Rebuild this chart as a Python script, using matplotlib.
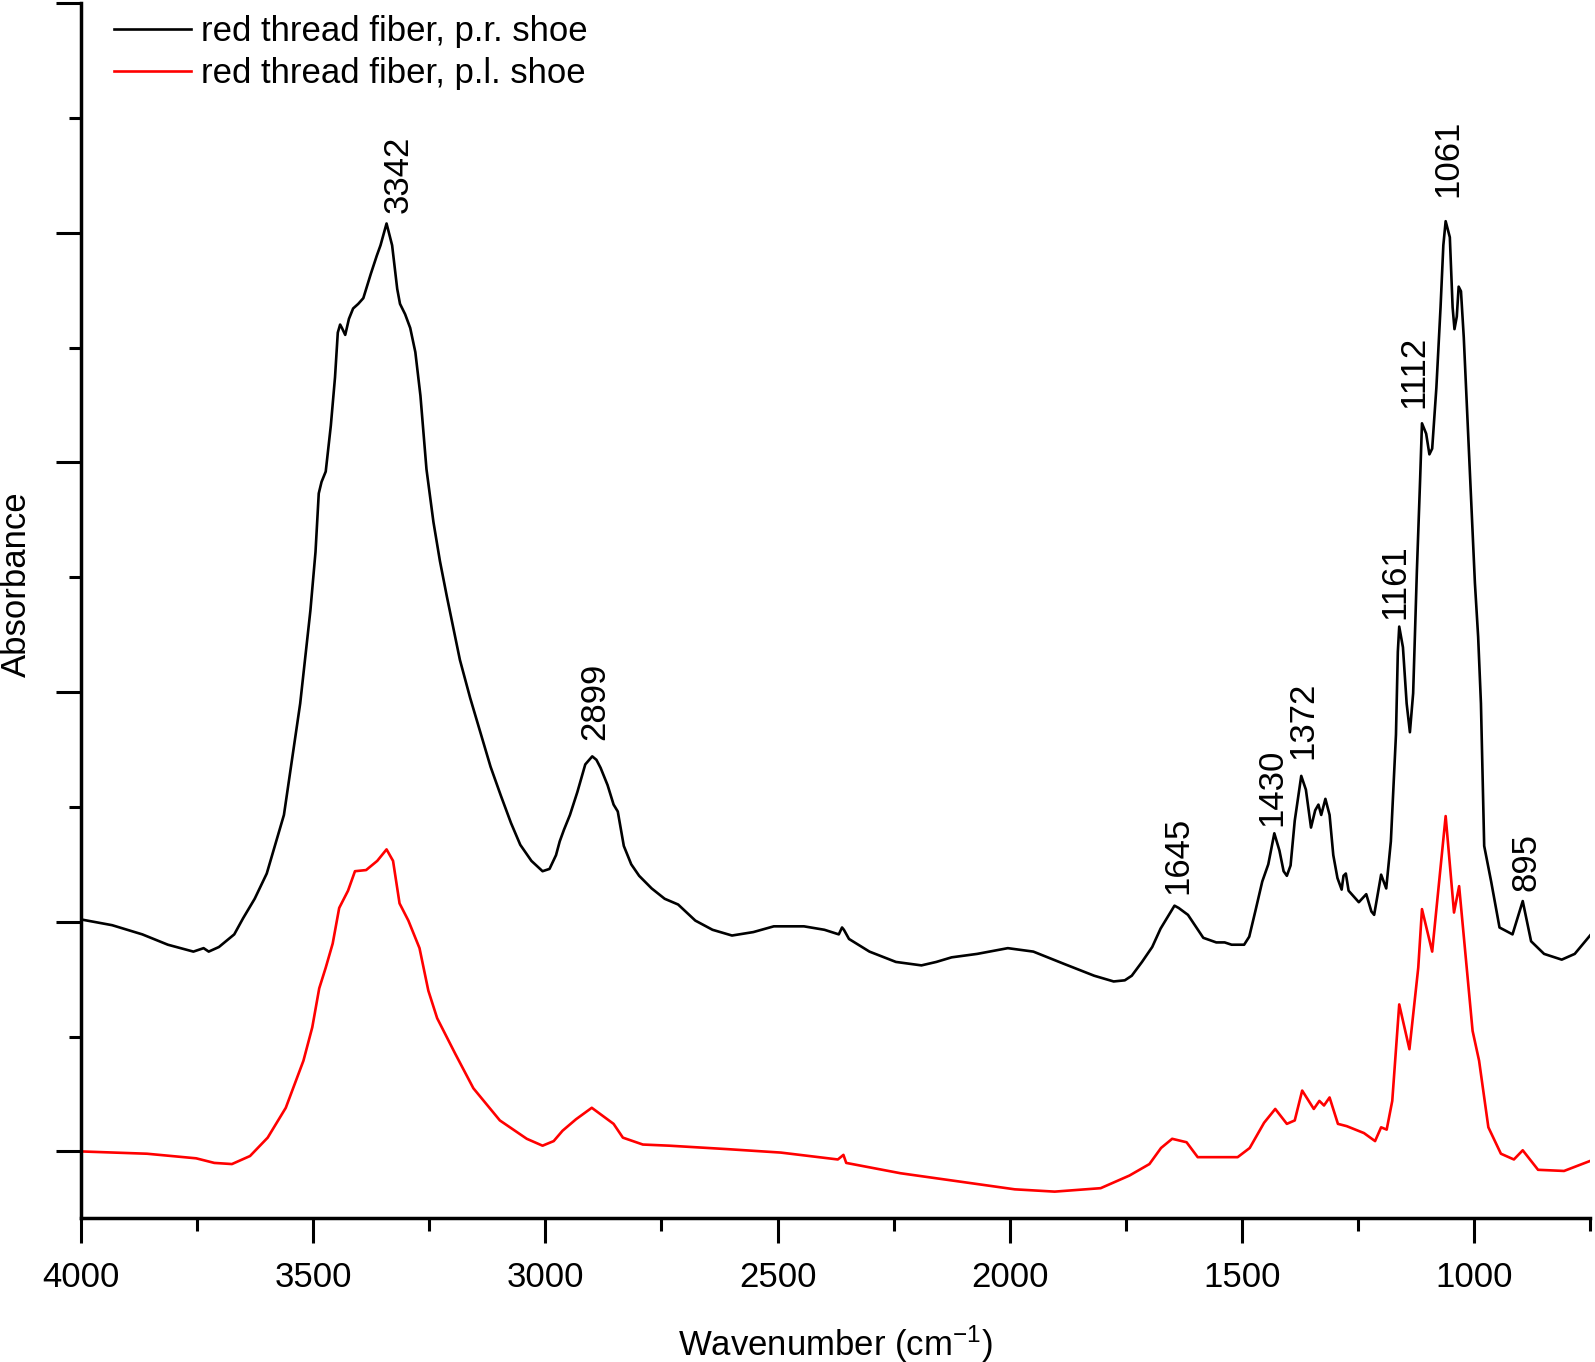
import matplotlib
matplotlib.use("Agg")
import matplotlib.pyplot as plt
from matplotlib.ticker import MultipleLocator

plt.rcParams["font.family"] = ["Liberation Sans", "DejaVu Sans"]
plt.rcParams["mathtext.default"] = "regular"

# espectro superior (negro), zapato derecho
wn_pr = [4000, 3933, 3868, 3813, 3758, 3736, 3725, 3703, 3670, 3651, 3626, 3600, 3563, 3528,
         3506, 3495, 3488, 3482, 3473, 3462, 3453, 3447, 3442, 3438, 3431, 3423, 3414, 3403,
         3392, 3376, 3363, 3355, 3342, 3330, 3319, 3313, 3302, 3291, 3280, 3269, 3256, 3241,
         3227, 3212, 3184, 3162, 3140, 3118, 3096, 3074, 3054, 3030, 3006, 2991, 2977, 2969,
         2960, 2947, 2931, 2914, 2899, 2890, 2881, 2866, 2853, 2844, 2831, 2815, 2798, 2771,
         2743, 2714, 2677, 2640, 2598, 2552, 2508, 2443, 2399, 2368, 2361, 2357, 2346, 2302,
         2245, 2190, 2158, 2125, 2070, 2004, 1949, 1881, 1818, 1776, 1752, 1737, 1715, 1693,
         1675, 1660, 1645, 1636, 1616, 1598, 1583, 1555, 1537, 1522, 1495, 1484, 1471, 1456,
         1443, 1430, 1419, 1410, 1403, 1395, 1386, 1372, 1362, 1351, 1342, 1335, 1329, 1320,
         1311, 1303, 1294, 1285, 1281, 1276, 1270, 1259, 1248, 1232, 1221, 1215, 1200, 1189,
         1179, 1168, 1164, 1161, 1153, 1145, 1138, 1131, 1123, 1116, 1112, 1103, 1096, 1090,
         1081, 1072, 1066, 1061, 1052, 1046, 1042, 1037, 1033, 1028, 1022, 1013, 1004, 998,
         991, 985, 978, 963, 945, 917, 895, 877, 849, 811, 783, 748]
abs_pr = [0.202, 0.197, 0.189, 0.180, 0.174, 0.177, 0.174, 0.178, 0.189, 0.203, 0.220, 0.242,
          0.293, 0.390, 0.471, 0.522, 0.573, 0.583, 0.592, 0.632, 0.674, 0.713, 0.720, 0.717,
          0.711, 0.725, 0.734, 0.738, 0.743, 0.764, 0.780, 0.789, 0.808, 0.789, 0.751, 0.738,
          0.729, 0.717, 0.696, 0.658, 0.594, 0.548, 0.514, 0.483, 0.428, 0.395, 0.365, 0.335,
          0.310, 0.286, 0.267, 0.253, 0.244, 0.246, 0.258, 0.270, 0.280, 0.293, 0.313, 0.337,
          0.344, 0.341, 0.334, 0.319, 0.302, 0.296, 0.266, 0.250, 0.240, 0.229, 0.220, 0.215,
          0.201, 0.193, 0.188, 0.191, 0.196, 0.196, 0.193, 0.189, 0.195, 0.193, 0.185, 0.174,
          0.165, 0.162, 0.165, 0.169, 0.172, 0.177, 0.174, 0.163, 0.153, 0.148, 0.149, 0.153,
          0.165, 0.178, 0.194, 0.204, 0.214, 0.212, 0.206, 0.195, 0.186, 0.182, 0.182, 0.180,
          0.180, 0.187, 0.209, 0.235, 0.250, 0.277, 0.262, 0.244, 0.240, 0.249, 0.288, 0.327,
          0.315, 0.282, 0.297, 0.302, 0.293, 0.307, 0.293, 0.258, 0.238, 0.228, 0.240, 0.242,
          0.227, 0.222, 0.217, 0.224, 0.209, 0.206, 0.241, 0.229, 0.270, 0.363, 0.435, 0.457,
          0.439, 0.390, 0.365, 0.399, 0.505, 0.585, 0.634, 0.625, 0.607, 0.612, 0.665, 0.735,
          0.789, 0.810, 0.796, 0.735, 0.716, 0.727, 0.753, 0.749, 0.709, 0.629, 0.550, 0.495,
          0.448, 0.390, 0.266, 0.235, 0.195, 0.189, 0.218, 0.183, 0.172, 0.167, 0.172, 0.189]

# espectro inferior (rojo), zapato izquierdo
wn_pl = [4000, 3858, 3752, 3713, 3675, 3636, 3598, 3559, 3521, 3502, 3487, 3473, 3458, 3444,
         3425, 3410, 3386, 3362, 3342, 3328, 3314, 3295, 3271, 3252, 3233, 3194, 3155, 3098,
         3040, 3006, 2982, 2963, 2934, 2900, 2853, 2833, 2790, 2733, 2608, 2493, 2370, 2358,
         2352, 2235, 2112, 1989, 1903, 1804, 1742, 1699, 1674, 1650, 1619, 1595, 1509, 1483,
         1452, 1428, 1403, 1386, 1370, 1345, 1333, 1323, 1311, 1293, 1274, 1237, 1213, 1200,
         1188, 1176, 1161, 1139, 1120, 1112, 1090, 1061, 1043, 1032, 1003, 989, 969, 942,
         914, 895, 862, 806, 748]
abs_pl = [0.000, -0.002, -0.006, -0.010, -0.011, -0.004, 0.012, 0.038, 0.079, 0.108, 0.142,
          0.160, 0.181, 0.212, 0.227, 0.244, 0.245, 0.253, 0.263, 0.253, 0.216, 0.201, 0.177,
          0.140, 0.116, 0.085, 0.055, 0.027, 0.011, 0.005, 0.009, 0.018, 0.028, 0.038, 0.024,
          0.012, 0.006, 0.005, 0.002, -0.001, -0.007, -0.003, -0.010, -0.019, -0.026, -0.033,
          -0.035, -0.032, -0.021, -0.011, 0.003, 0.011, 0.008, -0.005, -0.005, 0.003, 0.025,
          0.037, 0.024, 0.027, 0.053, 0.037, 0.044, 0.040, 0.047, 0.024, 0.022, 0.016, 0.009,
          0.021, 0.019, 0.044, 0.128, 0.089, 0.160, 0.211, 0.174, 0.292, 0.208, 0.231, 0.105,
          0.079, 0.021, -0.002, -0.007, 0.001, -0.016, -0.017, -0.008]

# etiquetas de picos
picos_txt = ["3342", "2899", "1645", "1430", "1372", "1161", "1112", "1061", "895"]
picos_x = [3317, 2894, 1638, 1436, 1369, 1170, 1130, 1056, 888]
picos_y = [0.817, 0.358, 0.224, 0.283, 0.342, 0.464, 0.647, 0.831, 0.227]

fig = plt.figure(figsize=(15.95, 13.62), dpi=100)
ax = fig.add_axes([0.0508, 0.1057, 0.9461, 0.8921])

ax.plot(wn_pr, abs_pr, color="black", lw=1.9, label="red thread fiber, p.r. shoe")
ax.plot(wn_pl, abs_pl, color="red", lw=1.9, label="red thread fiber, p.l. shoe")

for txt, x, y in zip(picos_txt, picos_x, picos_y):
    ax.text(x, y, txt, rotation=90, ha="center", va="bottom", fontsize=25)

ax.set_xlim(4000, 750)
ax.set_ylim(-0.058, 1.0)
ax.xaxis.set_major_locator(MultipleLocator(500))
ax.xaxis.set_minor_locator(MultipleLocator(250))
ax.yaxis.set_major_locator(MultipleLocator(0.2))
ax.yaxis.set_minor_locator(MultipleLocator(0.1))
ax.set_yticklabels([])

for lado in ["top", "right"]:
    ax.spines[lado].set_visible(False)
for lado in ["left", "bottom"]:
    ax.spines[lado].set_linewidth(2.5)

ax.tick_params(which="major", direction="out", length=18, width=2.2, labelsize=25)
ax.tick_params(which="minor", direction="out", length=9, width=2.2)
ax.tick_params(axis="x", which="major", pad=13)

ax.set_xlabel("Wavenumber (cm$^{-1}$)", fontsize=25, labelpad=21)
ax.set_ylabel("Absorbance", fontsize=25)
ax.yaxis.set_label_coords(-0.032, 0.522)

ax.legend(loc="upper left", bbox_to_anchor=(0.022, 0.990), frameon=False, fontsize=25,
          handlelength=2.2, handletextpad=0.3, labelspacing=0.25, borderpad=0, borderaxespad=0)

fig.savefig("out.png", dpi=100)
